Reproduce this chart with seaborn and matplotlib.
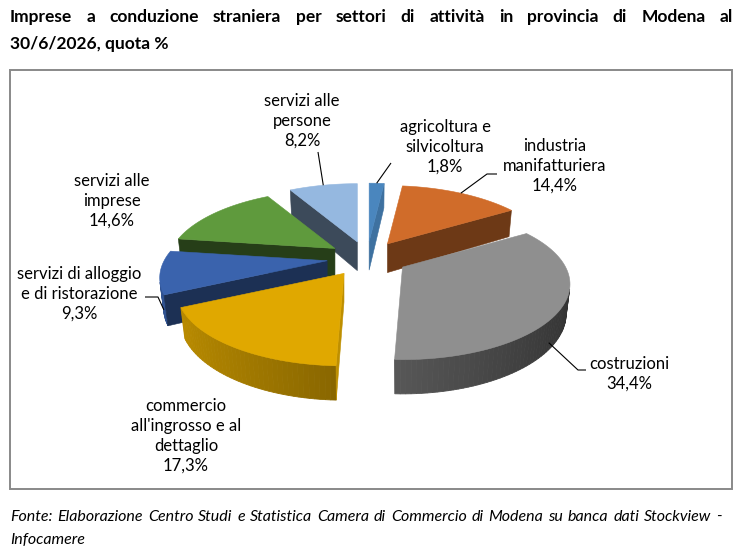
import numpy as np
import matplotlib
matplotlib.use("Agg")
import matplotlib.pyplot as plt
import seaborn as sns
from matplotlib.patches import Polygon, Rectangle
from matplotlib.colors import to_rgb

# ---------------- data ----------------
categories = ["agricoltura e\nsilvicoltura", "industria\nmanifatturiera", "costruzioni",
              "commercio\nall'ingrosso e al\ndettaglio", "servizi di alloggio\ne di ristorazione",
              "servizi alle\nimprese", "servizi alle\npersone"]
shares = [1.8, 14.4, 34.4, 17.3, 9.3, 14.6, 8.2]
colors = ["#4A86BE", "#D06C2A", "#8F8F8F", "#E0A800", "#3A63AD", "#5F9A3D", "#95B8E0"]
title_words_1 = "Imprese a conduzione straniera per settori di attività in provincia di Modena al".split()
title_line_2 = "30/6/2026, quota %"
source_words_1 = ("Fonte: Elaborazione Centro Studi e Statistica Camera di Commercio di Modena "
                  "su banca dati Stockview -").split()
source_line_2 = "Infocamere"

# ---------------- style ----------------
sns.set_theme(style="white")
plt.rcParams["font.family"] = ["Lato", "DejaVu Sans"]

W, H = 741, 558
fig = plt.figure(figsize=(W / 100, H / 100), dpi=100)
ax = fig.add_axes([0, 0, 1, 1])
ax.set_xlim(0, W)
ax.set_ylim(H, 0)
ax.axis("off")

# chart frame
ax.add_patch(Rectangle((10, 70), 722, 419, fill=False, edgecolor="#898989", lw=1.4, zorder=1))

# ---------------- 3D pie geometry ----------------
CX, CY = 367.0, 258.0
FOC, DIST = 645.0, 3.955
ALPHA = np.radians(26)
THICK, EXPL = 0.2, 0.245
ca, sa = np.cos(ALPHA), np.sin(ALPHA)


def proj(X, Y, Z):
    d = DIST + Z * ca - Y * sa
    return FOC * X / d, -FOC * (Y * ca + Z * sa) / d


def area(pts):
    p = np.asarray(pts)
    x, y = p[:, 0], p[:, 1]
    return 0.5 * np.sum(x * np.roll(y, -1) - np.roll(x, -1) * y)


def shade(col, f):
    return tuple(np.clip(np.array(to_rgb(col)) * f, 0, 1))


fr = np.array(shares) / np.sum(shares)
edges = np.concatenate([[0.0], np.cumsum(fr)]) * 2 * np.pi
mids = 0.5 * (edges[:-1] + edges[1:])

origins = []
for i in range(len(shares)):
    tm = mids[i]
    ex, ey = proj(EXPL * np.sin(tm), 0.0, EXPL * np.cos(tm))
    origins.append((CX + ex, CY + ey))


def P(i, X, Y, Z):
    ox, oy = origins[i]
    sx, sy = proj(X, Y, Z)
    return (ox + sx, oy + sy)


order = np.argsort(-np.cos(mids))  # far slices first
z = 2.0
for i in order:
    t0, t1 = edges[i], edges[i + 1]
    col = colors[i]
    ts = np.linspace(t0, t1, max(int((t1 - t0) / np.radians(1.5)), 2) + 1)
    # outer curved side
    for ta, tb in zip(ts[:-1], ts[1:]):
        q = [P(i, np.sin(ta), 0, np.cos(ta)), P(i, np.sin(tb), 0, np.cos(tb)),
             P(i, np.sin(tb), -THICK, np.cos(tb)), P(i, np.sin(ta), -THICK, np.cos(ta))]
        if area(q) < 0:
            f = 0.6 - 0.25 * np.sin(0.5 * (ta + tb))
            c = shade(col, f)
            ax.add_patch(Polygon(q, closed=True, facecolor=c, edgecolor=c, lw=0.6, zorder=z))
    z += 0.01
    # radial faces
    fs = [P(i, 0, 0, 0), P(i, np.sin(t0), 0, np.cos(t0)),
          P(i, np.sin(t0), -THICK, np.cos(t0)), P(i, 0, -THICK, 0)]
    fe = [P(i, np.sin(t1), 0, np.cos(t1)), P(i, 0, 0, 0),
          P(i, 0, -THICK, 0), P(i, np.sin(t1), -THICK, np.cos(t1))]
    for face, nx in ((fs, -np.cos(t0)), (fe, np.cos(t1))):
        if area(face) < 0:
            f = 0.4 + 0.45 * max(nx, 0) ** 2
            c = shade(col, f)
            ax.add_patch(Polygon(face, closed=True, facecolor=c, edgecolor=c, lw=0.4, zorder=z))
    z += 0.01
    top = [P(i, 0, 0, 0)] + [P(i, np.sin(t), 0, np.cos(t)) for t in ts]
    ax.add_patch(Polygon(top, closed=True, facecolor=col, edgecolor=col, lw=0.4, zorder=z))
    z += 0.01

# ---------------- labels ----------------
label_pos = [(445, 147), (555, 166), (629, 374), (186, 436), (79, 294), (112, 201), (302, 121)]
# anchor on slice: (angle shift in degrees, height fraction)
anchor_spec = [(0, 0), (0, 0), (8, 0.75), None, (-11, 0.75), None, (0, 0)]
label_side = [[(391, 163)], [(497, 174), (487, 174)], [(586, 370), (578, 370)], None,
              [(145, 297), (158, 297)], None, [(318, 152)]]

for i, cat in enumerate(categories):
    pct = f"{shares[i]:.1f}%".replace(".", ",")
    ax.text(label_pos[i][0], label_pos[i][1], f"{cat}\n{pct}", ha="center", va="center",
            multialignment="center", fontsize=12, color="#000000", linespacing=1.3, zorder=20)
    if anchor_spec[i] is not None:
        dt, hf = anchor_spec[i]
        t = mids[i] + np.radians(dt)
        a = P(i, np.sin(t), -THICK * hf, np.cos(t))
        pts = label_side[i] + [a]
        xs, ys = zip(*pts)
        ax.plot(xs, ys, color="#000000", lw=0.8, zorder=21, solid_capstyle="butt")

# ---------------- title & source ----------------
renderer = fig.canvas.get_renderer()


def justify(words, x0, x1, y, **kw):
    texts = [ax.text(0, y, w, ha="left", va="baseline", **kw) for w in words]
    widths = [t.get_window_extent(renderer).width for t in texts]
    gap = (x1 - x0 - sum(widths)) / (len(words) - 1)
    x = x0
    for t, w in zip(texts, widths):
        t.set_x(x)
        x += w + gap


justify(title_words_1, 10, 733, 22, fontsize=12.5, fontweight="bold", color="#000000")
ax.text(10, 49, title_line_2, ha="left", va="baseline", fontsize=12.5, fontweight="bold", color="#000000")
justify(source_words_1, 10, 722, 521, fontsize=11.5, fontstyle="italic", color="#000000")
ax.text(10, 544, source_line_2, ha="left", va="baseline", fontsize=11.5, fontstyle="italic", color="#000000")

fig.savefig("out.png", dpi=100, facecolor="white")
